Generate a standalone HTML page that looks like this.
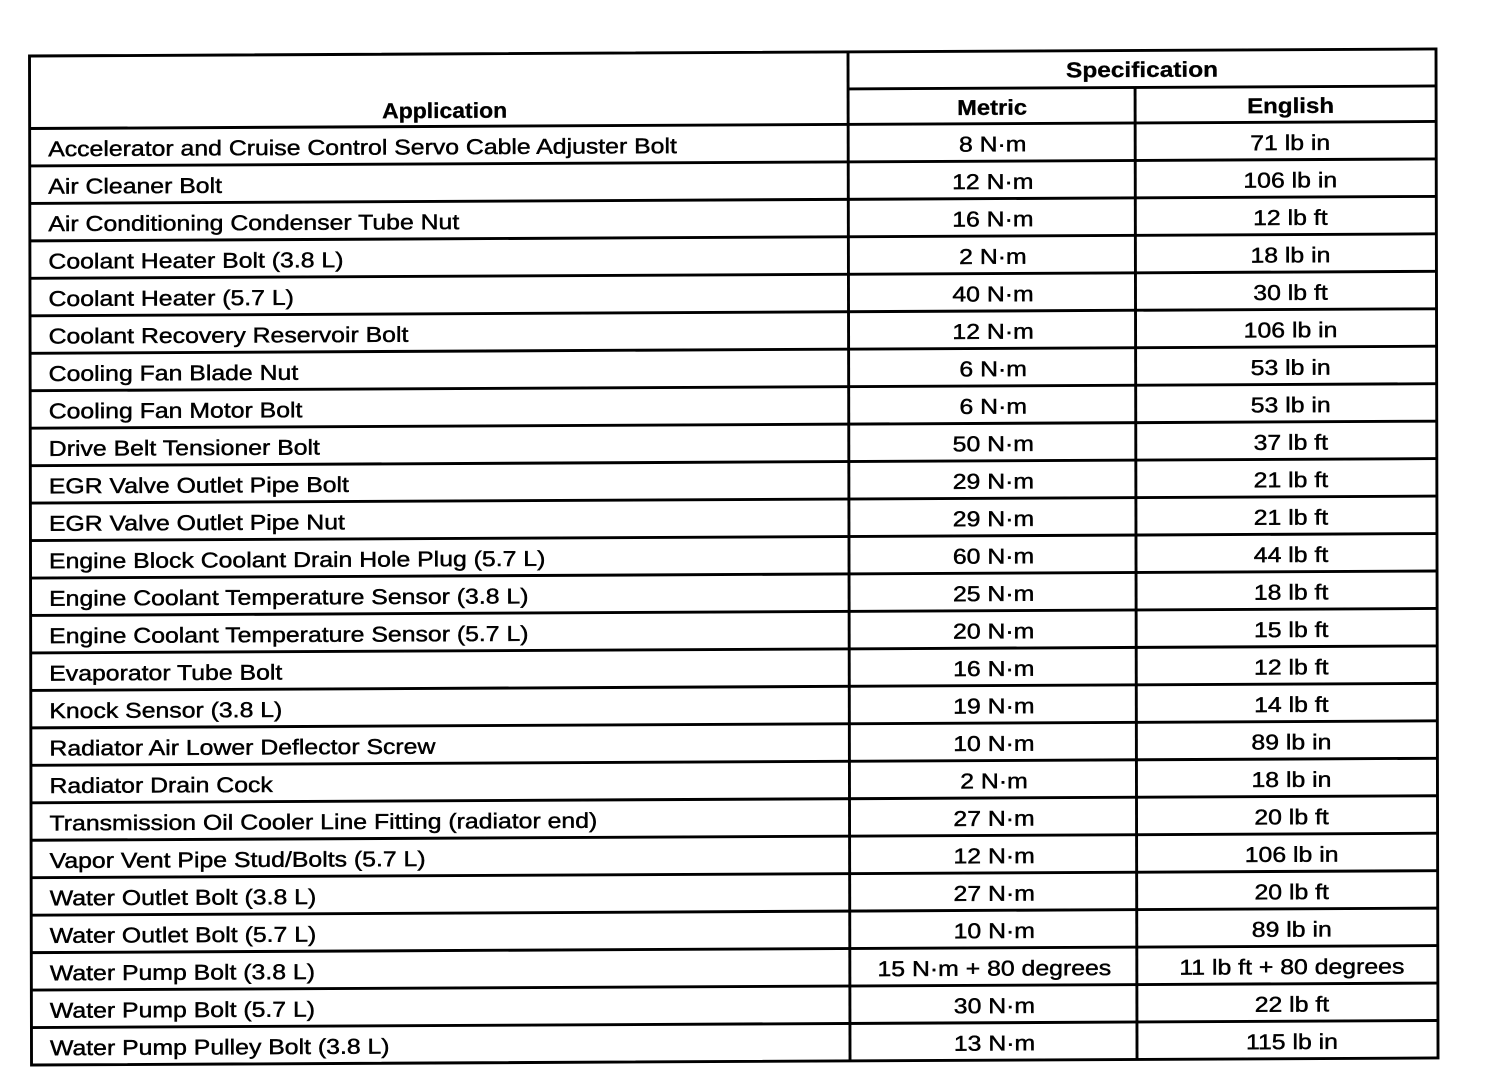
<!DOCTYPE html>
<html>
<head>
<meta charset="utf-8">
<style>
html,body{margin:0;padding:0;background:#fff;}
body{width:1504px;height:1088px;overflow:hidden;}
svg{display:block;}
text{font-family:"Liberation Sans",Arial,Helvetica,sans-serif;fill:#000;}
.d{font-size:21.4px;stroke:#000;stroke-width:0.45;}
.h{font-size:21.5px;font-weight:bold;stroke:#000;stroke-width:0.3;}
</style>
</head>
<body>
<svg width="1504" height="1088" viewBox="0 0 1504 1088" xmlns="http://www.w3.org/2000/svg">
<g transform="matrix(1,-0.005,0.002,1,-0.11,0.15)">
  <g stroke="#000" stroke-width="2.9" fill="none">
    <rect x="29.5" y="56" width="1406.5" height="1009"/>
    <line x1="848" y1="56" x2="848" y2="1065"/>
    <line x1="1135" y1="93" x2="1135" y2="1065"/>
    <line x1="848" y1="93" x2="1436" y2="93"/>
    <line x1="29.5" y1="128.5" x2="1436" y2="128.5"/>
    <line x1="29.5" y1="165.96" x2="1436" y2="165.96"/>
    <line x1="29.5" y1="203.42" x2="1436" y2="203.42"/>
    <line x1="29.5" y1="240.88" x2="1436" y2="240.88"/>
    <line x1="29.5" y1="278.34" x2="1436" y2="278.34"/>
    <line x1="29.5" y1="315.8" x2="1436" y2="315.8"/>
    <line x1="29.5" y1="353.26" x2="1436" y2="353.26"/>
    <line x1="29.5" y1="390.72" x2="1436" y2="390.72"/>
    <line x1="29.5" y1="428.18" x2="1436" y2="428.18"/>
    <line x1="29.5" y1="465.64" x2="1436" y2="465.64"/>
    <line x1="29.5" y1="503.1" x2="1436" y2="503.1"/>
    <line x1="29.5" y1="540.56" x2="1436" y2="540.56"/>
    <line x1="29.5" y1="578.02" x2="1436" y2="578.02"/>
    <line x1="29.5" y1="615.48" x2="1436" y2="615.48"/>
    <line x1="29.5" y1="652.94" x2="1436" y2="652.94"/>
    <line x1="29.5" y1="690.4" x2="1436" y2="690.4"/>
    <line x1="29.5" y1="727.86" x2="1436" y2="727.86"/>
    <line x1="29.5" y1="765.32" x2="1436" y2="765.32"/>
    <line x1="29.5" y1="802.78" x2="1436" y2="802.78"/>
    <line x1="29.5" y1="840.24" x2="1436" y2="840.24"/>
    <line x1="29.5" y1="877.7" x2="1436" y2="877.7"/>
    <line x1="29.5" y1="915.16" x2="1436" y2="915.16"/>
    <line x1="29.5" y1="952.62" x2="1436" y2="952.62"/>
    <line x1="29.5" y1="990.08" x2="1436" y2="990.08"/>
    <line x1="29.5" y1="1027.54" x2="1436" y2="1027.54"/>
  </g>

  <text class="h" x="382" y="120" textLength="125" lengthAdjust="spacingAndGlyphs">Application</text>
  <text class="h" x="1066" y="82.5" textLength="152" lengthAdjust="spacingAndGlyphs">Specification</text>
  <text class="h" x="957" y="119.6" textLength="70" lengthAdjust="spacingAndGlyphs">Metric</text>
  <text class="h" x="1247" y="119.3" textLength="87" lengthAdjust="spacingAndGlyphs">English</text>

  <g transform="translate(48,0) scale(1.16,1)">
    <text class="d" x="0" y="156.3">Accelerator and Cruise Control Servo Cable Adjuster Bolt</text>
    <text class="d" x="0" y="193.76">Air Cleaner Bolt</text>
    <text class="d" x="0" y="231.22">Air Conditioning Condenser Tube Nut</text>
    <text class="d" x="0" y="268.68">Coolant Heater Bolt (3.8 L)</text>
    <text class="d" x="0" y="306.14">Coolant Heater (5.7 L)</text>
    <text class="d" x="0" y="343.6">Coolant Recovery Reservoir Bolt</text>
    <text class="d" x="0" y="381.06">Cooling Fan Blade Nut</text>
    <text class="d" x="0" y="418.52">Cooling Fan Motor Bolt</text>
    <text class="d" x="0" y="455.98">Drive Belt Tensioner Bolt</text>
    <text class="d" x="0" y="493.44">EGR Valve Outlet Pipe Bolt</text>
    <text class="d" x="0" y="530.9">EGR Valve Outlet Pipe Nut</text>
    <text class="d" x="0" y="568.36">Engine Block Coolant Drain Hole Plug (5.7 L)</text>
    <text class="d" x="0" y="605.82">Engine Coolant Temperature Sensor (3.8 L)</text>
    <text class="d" x="0" y="643.28">Engine Coolant Temperature Sensor (5.7 L)</text>
    <text class="d" x="0" y="680.74">Evaporator Tube Bolt</text>
    <text class="d" x="0" y="718.2">Knock Sensor (3.8 L)</text>
    <text class="d" x="0" y="755.66">Radiator Air Lower Deflector Screw</text>
    <text class="d" x="0" y="793.12">Radiator Drain Cock</text>
    <text class="d" x="0" y="830.58">Transmission Oil Cooler Line Fitting (radiator end)</text>
    <text class="d" x="0" y="868.04">Vapor Vent Pipe Stud/Bolts (5.7 L)</text>
    <text class="d" x="0" y="905.5">Water Outlet Bolt (3.8 L)</text>
    <text class="d" x="0" y="942.96">Water Outlet Bolt (5.7 L)</text>
    <text class="d" x="0" y="980.42">Water Pump Bolt (3.8 L)</text>
    <text class="d" x="0" y="1017.88">Water Pump Bolt (5.7 L)</text>
    <text class="d" x="0" y="1055.34">Water Pump Pulley Bolt (3.8 L)</text>
  </g>

  <g transform="translate(992.5,0) scale(1.16,1)" text-anchor="middle">
    <text class="d" x="0" y="156.3">8 N·m</text>
    <text class="d" x="0" y="193.76">12 N·m</text>
    <text class="d" x="0" y="231.22">16 N·m</text>
    <text class="d" x="0" y="268.68">2 N·m</text>
    <text class="d" x="0" y="306.14">40 N·m</text>
    <text class="d" x="0" y="343.6">12 N·m</text>
    <text class="d" x="0" y="381.06">6 N·m</text>
    <text class="d" x="0" y="418.52">6 N·m</text>
    <text class="d" x="0" y="455.98">50 N·m</text>
    <text class="d" x="0" y="493.44">29 N·m</text>
    <text class="d" x="0" y="530.9">29 N·m</text>
    <text class="d" x="0" y="568.36">60 N·m</text>
    <text class="d" x="0" y="605.82">25 N·m</text>
    <text class="d" x="0" y="643.28">20 N·m</text>
    <text class="d" x="0" y="680.74">16 N·m</text>
    <text class="d" x="0" y="718.2">19 N·m</text>
    <text class="d" x="0" y="755.66">10 N·m</text>
    <text class="d" x="0" y="793.12">2 N·m</text>
    <text class="d" x="0" y="830.58">27 N·m</text>
    <text class="d" x="0" y="868.04">12 N·m</text>
    <text class="d" x="0" y="905.5">27 N·m</text>
    <text class="d" x="0" y="942.96">10 N·m</text>
    <text class="d" x="0" y="980.42">15 N·m + 80 degrees</text>
    <text class="d" x="0" y="1017.88">30 N·m</text>
    <text class="d" x="0" y="1055.34">13 N·m</text>
  </g>

  <g transform="translate(1290,0) scale(1.16,1)" text-anchor="middle">
    <text class="d" x="0" y="156.3">71 lb in</text>
    <text class="d" x="0" y="193.76">106 lb in</text>
    <text class="d" x="0" y="231.22">12 lb ft</text>
    <text class="d" x="0" y="268.68">18 lb in</text>
    <text class="d" x="0" y="306.14">30 lb ft</text>
    <text class="d" x="0" y="343.6">106 lb in</text>
    <text class="d" x="0" y="381.06">53 lb in</text>
    <text class="d" x="0" y="418.52">53 lb in</text>
    <text class="d" x="0" y="455.98">37 lb ft</text>
    <text class="d" x="0" y="493.44">21 lb ft</text>
    <text class="d" x="0" y="530.9">21 lb ft</text>
    <text class="d" x="0" y="568.36">44 lb ft</text>
    <text class="d" x="0" y="605.82">18 lb ft</text>
    <text class="d" x="0" y="643.28">15 lb ft</text>
    <text class="d" x="0" y="680.74">12 lb ft</text>
    <text class="d" x="0" y="718.2">14 lb ft</text>
    <text class="d" x="0" y="755.66">89 lb in</text>
    <text class="d" x="0" y="793.12">18 lb in</text>
    <text class="d" x="0" y="830.58">20 lb ft</text>
    <text class="d" x="0" y="868.04">106 lb in</text>
    <text class="d" x="0" y="905.5">20 lb ft</text>
    <text class="d" x="0" y="942.96">89 lb in</text>
    <text class="d" x="0" y="980.42">11 lb ft + 80 degrees</text>
    <text class="d" x="0" y="1017.88">22 lb ft</text>
    <text class="d" x="0" y="1055.34">115 lb in</text>
  </g>
</g>
</svg>
</body>
</html>
